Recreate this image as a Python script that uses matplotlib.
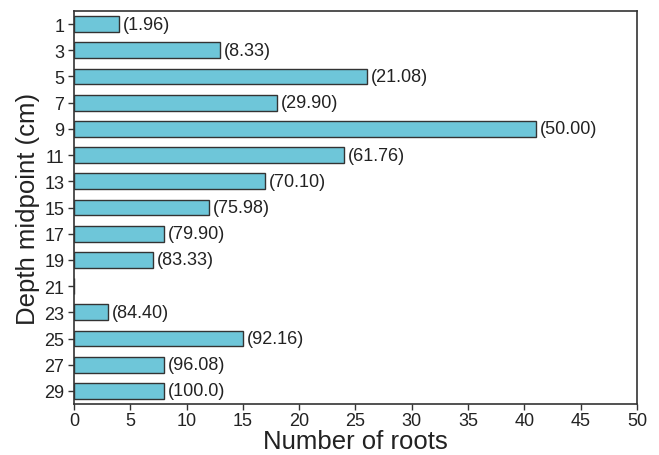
import matplotlib
matplotlib.use("Agg")
import matplotlib.pyplot as plt

depths = [1, 3, 5, 7, 9, 11, 13, 15, 17, 19, 21, 23, 25, 27, 29]
roots = [4, 13, 26, 18, 41, 24, 17, 12, 8, 7, 0, 3, 15, 8, 8]
cum_labels = ["(1.96)", "(8.33)", "(21.08)", "(29.90)", "(50.00)", "(61.76)",
              "(70.10)", "(75.98)", "(79.90)", "(83.33)", None, "(84.40)",
              "(92.16)", "(96.08)", "(100.0)"]
xticks = [0, 5, 10, 15, 20, 25, 30, 35, 40, 45, 50]

plt.rcParams['font.family'] = ['Liberation Sans', 'DejaVu Sans']

fig = plt.figure(figsize=(6.59, 4.56), dpi=100)
ax = fig.add_axes([0.1123, 0.1118, 0.8543, 0.8619])

pos = list(range(len(depths)))
ax.barh(pos, roots, height=0.6, color='#6EC6D9', edgecolor='#333333', linewidth=1.0)
for p, v, lab in zip(pos, roots, cum_labels):
    if lab is not None and v > 0:
        ax.text(v + 0.35, p, lab, va='center', ha='left', fontsize=13, color='#222222')

ax.set_ylim(len(depths) - 0.5, -0.5)
ax.set_xlim(0, 50)
ax.set_yticks(pos)
ax.set_yticklabels([str(d) for d in depths])
ax.set_xticks(xticks)
ax.tick_params(axis='both', labelsize=13, length=4, width=1, colors='#333333', labelcolor='#222222')
ax.tick_params(axis='y', pad=3)
ax.tick_params(axis='x', pad=2)
for s in ax.spines.values():
    s.set_linewidth(1.2)
    s.set_color('#333333')
ax.set_xlabel("Number of roots", fontsize=18.5, color='#222222', labelpad=0)
ax.set_ylabel("Depth midpoint (cm)", fontsize=18.5, color='#222222', labelpad=3)

fig.savefig("out.png", dpi=100)
